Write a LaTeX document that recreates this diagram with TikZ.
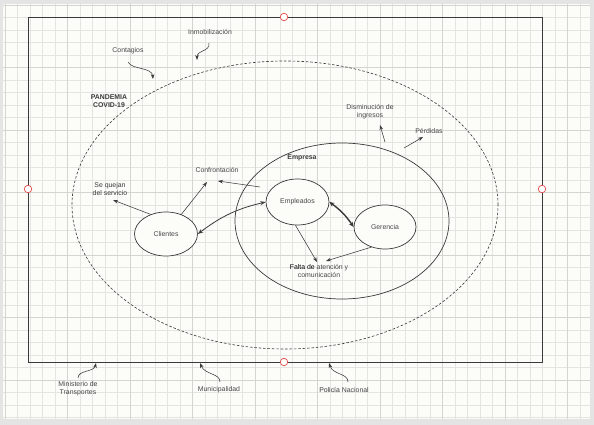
\documentclass[tikz,border=0pt]{standalone}
\usepackage{fontspec}
\setmainfont{Liberation Sans}
\usetikzlibrary{arrows.meta,shapes.geometric}
\definecolor{pagebg}{HTML}{FCFCF9}
\definecolor{outbg}{HTML}{E4E4E4}
\definecolor{gridmin}{HTML}{E4E4E0}
\definecolor{gridmaj}{HTML}{D4D4D0}
\definecolor{ink}{HTML}{3A3A3A}
\definecolor{txt}{HTML}{484848}
\definecolor{redpt}{HTML}{E04848}
\tikzset{
  lbl/.style={text=txt,font=\fontsize{6.9}{8}\selectfont,align=center,inner sep=0.5pt},
  lblb/.style={lbl,font=\fontsize{6.9}{8}\selectfont\bfseries,text=ink},
  ell/.style={ellipse,draw=ink,line width=0.7pt,fill=pagebg,text=txt,font=\fontsize{6.9}{8}\selectfont,inner sep=0pt},
  arr/.style={draw=ink,line width=0.55pt,-{Stealth[length=5pt,width=3.6pt]}},
  darr/.style={draw=ink,line width=0.8pt,{Stealth[length=5.5pt,width=4pt]}-{Stealth[length=5.5pt,width=4pt]}},
  tarr/.style={draw=ink,line width=1.4pt,{Stealth[length=5pt,width=4.5pt]}-{Stealth[length=5pt,width=4.5pt]}},
  redc/.style={circle,draw=redpt,fill=white,line width=0.7pt,minimum size=7.5pt,inner sep=0pt}
}
\begin{document}
\begin{tikzpicture}[x=1pt,y=-1pt]
\useasboundingbox (0,0) rectangle (594,425);
\fill[outbg] (0,0) rectangle (594,425);
\fill[pagebg] (3,4) rectangle (590,419);
% grid
\foreach \i in {0,...,46}{
  \pgfmathsetmacro{\xx}{5+\i*12.5}
  \draw[gridmin,line width=0.5pt] (\xx,4) -- (\xx,419);
}
\foreach \j in {0,...,33}{
  \pgfmathsetmacro{\yy}{5+\j*12.5}
  \draw[gridmin,line width=0.5pt] (3,\yy) -- (590,\yy);
}
\foreach \i in {0,...,9}{
  \pgfmathsetmacro{\xx}{5+\i*62.5}
  \draw[gridmaj,line width=0.6pt] (\xx,4) -- (\xx,419);
}
\foreach \j in {0,...,6}{
  \pgfmathsetmacro{\yy}{5+\j*62.5}
  \draw[gridmaj,line width=0.6pt] (3,\yy) -- (590,\yy);
}
% main frame
\draw[ink,line width=0.9pt] (28,17) rectangle (542,362);
% dashed pandemic ellipse
\node[ellipse,draw=ink,line width=0.6pt,dash pattern=on 2.6pt off 1.8pt,minimum width=426pt,minimum height=288pt,inner sep=0pt] (pan) at (285,205) {};
% empresa ellipse
\node[ellipse,draw=ink,line width=0.7pt,minimum width=214pt,minimum height=156pt,inner sep=0pt] (empr) at (342,221) {};
% inner ellipses
\node[ell,minimum width=63pt,minimum height=46pt] (emp) at (297.5,202) {Empleados};
\node[ell,minimum width=62pt,minimum height=44pt] (ger) at (385,227) {Gerencia};
\node[ell,minimum width=63pt,minimum height=44pt] (cli) at (166,234) {Clientes};
% red connection points
\node[redc] (r1) at (284,17) {};
\node[redc] (r2) at (28,189) {};
\node[redc] (r3) at (542,189) {};
\node[redc] (r4) at (284,362) {};
% labels
\node[lbl] (inm) at (210,32) {Inmobilización};
\node[lbl] (cont) at (128,51) {Contagios};
\node[lblb] (pand) at (109,101) {PANDEMIA\\COVID-19};
\node[lbl] (conf) at (217,170) {Confrontación};
\node[lbl,text=ink] (quej) at (110,189.5) {Se quejan\\del servicio};
\node[lbl] (dism) at (370,111.5) {Disminución {\color{ink}de}\\ingresos};
\node[lbl] (perd) at (429,131) {Pérdidas};
\node[lblb] (emprl) at (302,158) {Empresa};
\node[lbl] (falta) at (319,271) {{\color{black}Falta de} atención y\\comunicación};
\node[lbl] (mint) at (78,389) {Ministerio {\color{ink}de}\\Transportes};
\node[lbl] (muni) at (219,390) {Municipalidad};
\node[lbl] (poli) at (344,390) {{\color{ink}Policía} Nacional};
% arrow end coordinates
\coordinate (inmS) at (209,43);
\coordinate (inmE) at (197,60);
\coordinate (contS) at (128,62);
\coordinate (contE) at (153,79);
\coordinate (minS) at (78,378);
\coordinate (minE) at (96,363);
\coordinate (munS) at (220,382);
\coordinate (munE) at (200,363);
\coordinate (polS) at (348,382);
\coordinate (polE) at (329,363);
\coordinate (quejE) at (113,200);
\coordinate (confE) at (207,182);
\coordinate (cfS) at (260,187);
\coordinate (cfE) at (218,181);
\coordinate (falE1) at (317,262);
\coordinate (falE2) at (326,261);
\coordinate (dismS) at (385,142);
\coordinate (dismE) at (380,125);
\coordinate (perdS) at (404,148);
\coordinate (perdE) at (423,137);
% curved label arrows
\draw[arr] (inmS) .. controls (210,52) and (197,50) .. (inmE);
\draw[arr] (contS) .. controls (132,70) and (152,67) .. (contE);
\draw[arr] (minS) .. controls (78,370) and (94,372) .. (minE);
\draw[arr] (munS) .. controls (220,373) and (205,375) .. (munE);
\draw[arr] (polS) .. controls (348,373) and (333,375) .. (polE);
% straight arrows
\draw[arr] (cli.128) -- (quejE);
\draw[arr] (cli.52) -- (confE);
\draw[arr] (cfS) -- (cfE);
\draw[arr] (emp.265) -- (falE1);
\draw[arr] (ger.236) -- (falE2);
\draw[arr] (dismS) -- (dismE);
\draw[arr] (perdS) -- (perdE);
% double arrows
\draw[darr] (cli.east) to[bend left=12] (emp.west);
\draw[tarr] (emp.east) to[bend left=10] (ger.west);
\end{tikzpicture}
\end{document}
